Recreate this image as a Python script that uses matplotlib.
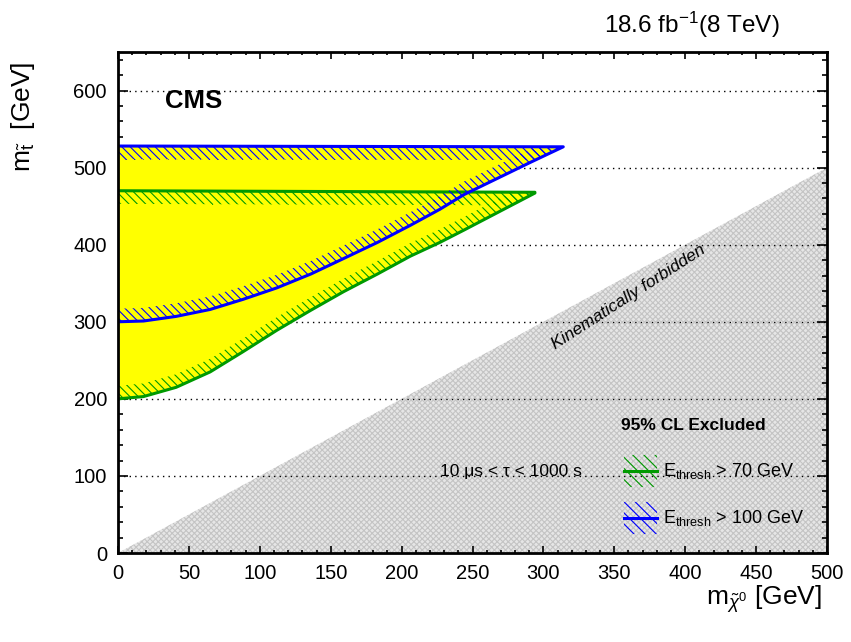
import numpy as np
import matplotlib
matplotlib.use("Agg")
import matplotlib.pyplot as plt
from matplotlib.patches import Polygon, Rectangle
from matplotlib.lines import Line2D
from matplotlib.ticker import MultipleLocator

plt.rcParams["font.family"] = ["Liberation Sans", "DejaVu Sans"]
plt.rcParams["mathtext.fontset"] = "custom"
plt.rcParams["mathtext.rm"] = "Liberation Sans"
plt.rcParams["mathtext.it"] = "Liberation Sans:italic"
plt.rcParams["mathtext.bf"] = "Liberation Sans:bold"
plt.rcParams["hatch.linewidth"] = 0.8

# exclusion contours (m_chi0 vs m_stop, GeV)
green_top_x = [0, 294]
green_top_y = [470, 468]
green_low_x = [0, 18, 41, 65, 88, 112, 136, 159, 183, 206, 227, 244, 294]
green_low_y = [200, 203, 215, 235, 261, 289, 315, 339, 362, 385, 403, 419, 467]

blue_top_x = [0, 314]
blue_top_y = [528, 527]
blue_low_x = [0, 18, 41, 65, 88, 112, 136, 159, 183, 206, 227, 244, 291, 314]
blue_low_y = [300, 301, 307, 316, 329, 344, 362, 382, 403, 425, 446, 465, 507, 527]

# kinematic limit m_stop = m_chi0
kin_x = [0, 500]
kin_y = [0, 500]

labels = [r"E$_{\mathrm{thresh}}$ > 70 GeV", r"E$_{\mathrm{thresh}}$ > 100 GeV"]
green = "#009a00"
blue = "#0000ff"
band = 17  # hatch band width in GeV

fig = plt.figure(figsize=(8.51, 6.42), dpi=100)
ax = fig.add_axes([0.1387, 0.1386, 0.8331, 0.7804])
ax.set_xlim(0, 500)
ax.set_ylim(0, 650)

# kinematically forbidden triangle
ax.fill_between(kin_x, 0, kin_y, facecolor="#e6e6e6", edgecolor="#c4c4c4",
                hatch="xxxxxx", lw=0, zorder=1)

ax.xaxis.set_major_locator(MultipleLocator(50))
ax.xaxis.set_minor_locator(MultipleLocator(10))
ax.yaxis.set_major_locator(MultipleLocator(100))
ax.yaxis.set_minor_locator(MultipleLocator(20))
yt = [t for t in ax.get_yticks() if 0 < t < 650]
ax.hlines(yt, 0, 500, colors="black", linestyles=(0, (1, 3)), lw=1.0, zorder=1.5)

contours = [(green_top_x, green_top_y, green_low_x, green_low_y, green),
            (blue_top_x, blue_top_y, blue_low_x, blue_low_y, blue)]

# yellow excluded area (union of both contours)
fills = []
for tx, ty, lx, ly, c in contours:
    xs = np.concatenate([tx, lx[::-1]])
    ys = np.concatenate([ty, ly[::-1]])
    fill = Polygon(np.column_stack([xs, ys]), closed=True, facecolor="#ffff00",
                   edgecolor="none", lw=0, zorder=2)
    ax.add_patch(fill)
    fills.append((fill, xs, ys))

# hatched inner bands + contour lines
for k, (tx, ty, lx, ly, c) in enumerate(contours):
    tx, ty, lx, ly = map(np.array, (tx, ty, lx, ly))
    fill, xs, ys = fills[k]
    top_band = np.column_stack([np.concatenate([tx, tx[::-1]]),
                                np.concatenate([ty, ty[::-1] - band])])
    low_band = np.column_stack([np.concatenate([lx, lx[::-1]]),
                                np.concatenate([ly, ly[::-1] + band])])
    for b in (top_band, low_band):
        p = Polygon(b, closed=True, facecolor="none", edgecolor=c,
                    hatch="\\\\\\\\", lw=0, zorder=3 + k)
        ax.add_patch(p)
        p.set_clip_path(fill)
    ax.plot(xs, ys, color=c, lw=2.2, zorder=3.5 + k, solid_joinstyle="round")

# axes styling
for s in ax.spines.values():
    s.set_linewidth(2)
    s.set_zorder(10)
ax.tick_params(which="both", direction="in", top=True, right=True, width=1.2,
               labelsize=14.5, pad=8, zorder=10)
ax.tick_params(axis="y", which="major", length=7.2)
ax.tick_params(axis="y", which="minor", length=3.6)
ax.tick_params(axis="x", which="major", length=5)
ax.tick_params(axis="x", which="minor", length=2.5)

# texts
ax.text(0.066, 0.903, "CMS", transform=ax.transAxes, fontsize=18.5,
        fontweight="bold", va="center", ha="left", zorder=11)
fig.text(0.9166, 0.949, r"18.6 fb$^{\mathregular{-1}}$(8 TeV)", ha="right",
         va="baseline", fontsize=17.5)
fig.text(822 / 851, 1 - 605 / 642, r"m$_{\tilde{\chi}^{0}}$ [GeV]", ha="right",
         va="baseline", fontsize=19)
fig.text(23 / 851, 1 - 62 / 642, r"m$_{\tilde{\mathrm{t}}}$  [GeV]", ha="center",
         va="top", rotation=90, fontsize=19)
ax.text(0.7196, 0.511, "Kinematically forbidden", transform=ax.transAxes,
        fontsize=12.5, style="italic", rotation=32.8, ha="center", va="center",
        rotation_mode="anchor", zorder=11)
ax.text(0.554, 0.162, "10 μs < τ < 1000 s", transform=ax.transAxes,
        fontsize=12.5, ha="center", va="center", zorder=11)

# legend
ax.text(0.709, 0.255, "95% CL Excluded", transform=ax.transAxes, fontsize=12.5,
        fontweight="bold", ha="left", va="center", zorder=11)
for lab, c, yc in zip(labels, [green, blue], [0.1635, 0.0698]):
    ax.add_patch(Rectangle((0.713, yc - 0.0325), 0.047, 0.065, transform=ax.transAxes,
                           facecolor="none", edgecolor=c, hatch="\\\\\\", lw=0,
                           zorder=11))
    ax.add_line(Line2D([0.713, 0.760], [yc, yc], transform=ax.transAxes,
                       color=c, lw=2.2, zorder=12))
    ax.text(0.768, yc, lab, transform=ax.transAxes, fontsize=13,
            ha="left", va="center", zorder=11)

fig.savefig("out.png", dpi=100)
